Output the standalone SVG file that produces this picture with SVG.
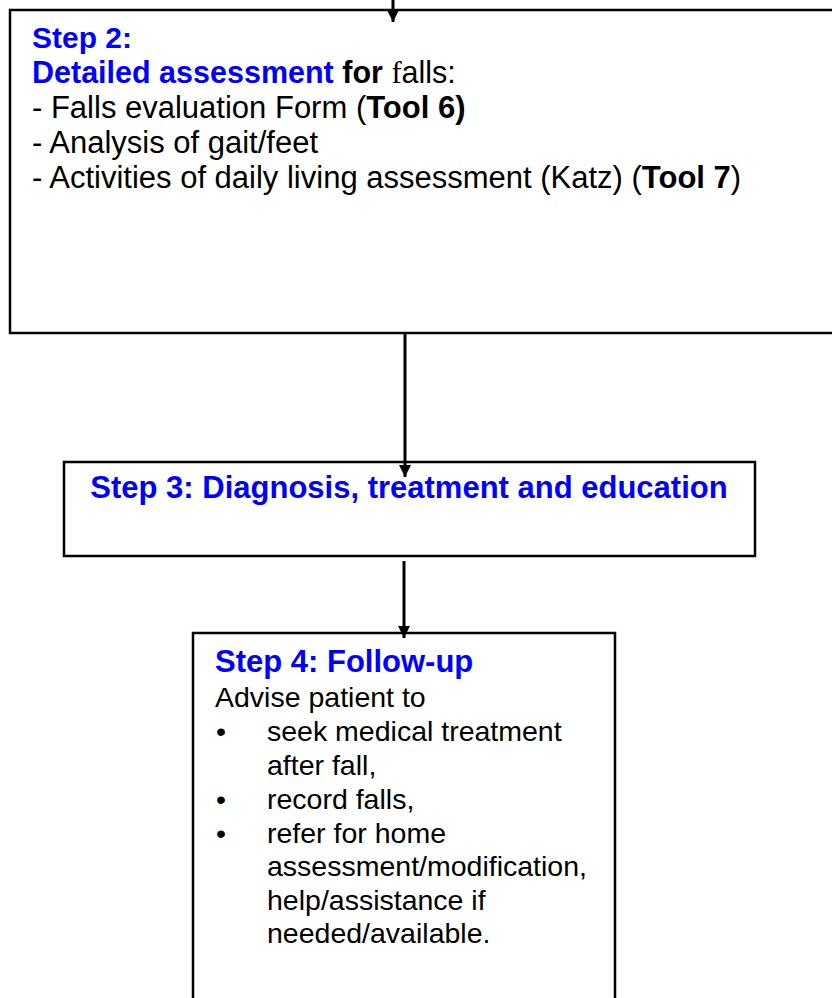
<svg xmlns="http://www.w3.org/2000/svg" width="832" height="998" viewBox="0 0 832 998">
<style>
.box{fill:#fff;stroke:#000;stroke-width:2.5}
.t{font-family:"Liberation Sans",Arial,sans-serif;fill:#000}
.b{font-weight:bold}
.blue{fill:#0000ff}
.conn line{stroke:#000;stroke-width:3}
</style>
<defs>
<marker id="arr" markerWidth="12" markerHeight="14" refX="12" refY="7" orient="auto" markerUnits="userSpaceOnUse">
<path d="M0,1 L12,7 L0,13 Z" fill="#000"/>
</marker>
</defs>
<rect width="832" height="998" fill="#fff"/>
<g id="step2">
<rect class="box" x="10" y="10" width="840" height="323"/>
<text class="t b blue" x="32" y="48" font-size="30">Step 2:</text>
<text class="t" x="32" y="83" font-size="30.5"><tspan class="b blue">Detailed assessment</tspan><tspan class="b"> for </tspan><tspan font-family="Liberation Serif,serif">f</tspan>alls:</text>
<text class="t" x="32" y="118" font-size="31">- Falls evaluation Form (<tspan class="b">Tool 6)</tspan></text>
<text class="t" x="32" y="153" font-size="31">- Analysis of gait/feet</text>
<text class="t" x="32" y="188" font-size="31">- Activities of daily living assessment (Katz) (<tspan class="b">Tool 7</tspan>)</text>
</g>
<g id="step3">
<rect class="box" x="64" y="462" width="691" height="94"/>
<text class="t b blue" x="409" y="498" font-size="31" text-anchor="middle">Step 3: Diagnosis, treatment and education</text>
</g>
<g id="step4">
<rect class="box" x="193" y="633" width="422" height="380"/>
<text class="t b blue" x="215" y="672" font-size="31">Step 4: Follow-up</text>
<text class="t" x="215" y="707" font-size="28.5">Advise patient to</text>
<text class="t" x="221" y="741" font-size="28.5" text-anchor="middle">•</text>
<text class="t" x="267" y="741" font-size="28.5">seek medical treatment</text>
<text class="t" x="267" y="775" font-size="28.5">after fall,</text>
<text class="t" x="221" y="809" font-size="28.5" text-anchor="middle">•</text>
<text class="t" x="267" y="809" font-size="28.5">record falls,</text>
<text class="t" x="221" y="843" font-size="28.5" text-anchor="middle">•</text>
<text class="t" x="267" y="843" font-size="28.5">refer for home</text>
<text class="t" x="267" y="876" font-size="28.5">assessment/modification,</text>
<text class="t" x="267" y="910" font-size="28.5">help/assistance if</text>
<text class="t" x="267" y="943" font-size="28.5">needed/available.</text>
</g>
<g id="connectors" class="conn">
<line x1="393" y1="0" x2="393" y2="22" marker-end="url(#arr)"/>
<line x1="405" y1="334" x2="405" y2="477" marker-end="url(#arr)"/>
<line x1="404" y1="561" x2="404" y2="638" marker-end="url(#arr)"/>
</g>
</svg>
